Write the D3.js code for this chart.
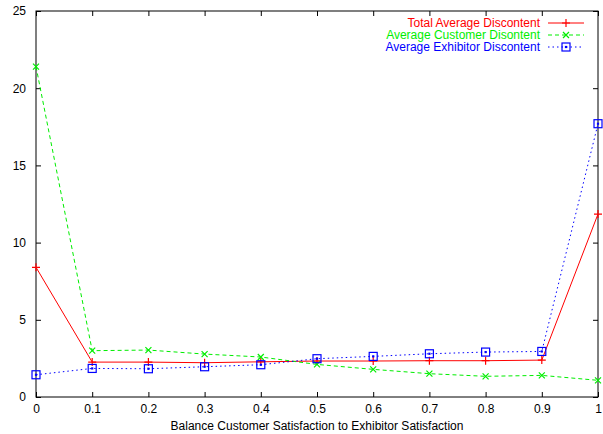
<!DOCTYPE html>
<meta charset="utf-8">
<style>
body { margin: 0; background: #fff; }
svg { display: block; font-family: "Liberation Sans", Arial, sans-serif; }
</style>
<svg width="603" height="434"></svg>
<script src="https://d3js.org/d3.v7.min.js"></script>
<script>

var balance = [0, 0.1, 0.2, 0.3, 0.4, 0.5, 0.6, 0.7, 0.8, 0.9, 1];
var totalDiscontent = [8.4, 2.26, 2.26, 2.22, 2.28, 2.33, 2.33, 2.35, 2.35, 2.39, 11.85];
var customerDiscontent = [21.4, 3.0, 3.04, 2.78, 2.59, 2.11, 1.79, 1.51, 1.34, 1.4, 1.08];
var exhibitorDiscontent = [1.44, 1.85, 1.83, 1.96, 2.09, 2.48, 2.63, 2.8, 2.91, 2.95, 17.7];
var xTicks = [0, 0.1, 0.2, 0.3, 0.4, 0.5, 0.6, 0.7, 0.8, 0.9, 1];
var yTicks = [0, 5, 10, 15, 20, 25];

var series = [
  {name: "Total Average Discontent", values: totalDiscontent, color: "#ff0000", dash: null, mark: "plus"},
  {name: "Average Customer Disontent", values: customerDiscontent, color: "#00ee00", dash: "4,3", mark: "cross"},
  {name: "Average Exhibitor Discontent", values: exhibitorDiscontent, color: "#0000ff", dash: "1.5,3", mark: "square"}
];

var svg = d3.select("svg"),
    margin = {top: 11, right: 5, bottom: 37, left: 36},
    width = +svg.attr("width") - margin.left - margin.right,
    height = +svg.attr("height") - margin.top - margin.bottom,
    g = svg.append("g").attr("transform", "translate(" + margin.left + "," + margin.top + ")");

var x = d3.scaleLinear().domain([0, 1]).range([0, width]);
var y = d3.scaleLinear().domain([0, 25]).range([height, 0]);

// ticks on all four sides, pointing inward (gnuplot style)
function styleAxis(sel) {
  sel.select(".domain").remove();
  sel.selectAll("line").attr("stroke", "#000");
  sel.selectAll("text").attr("fill", "#000").style("font-size", "12px");
}
g.append("g").attr("transform", "translate(0," + height + ")")
  .call(d3.axisBottom(x).tickValues(xTicks).tickSize(-5).tickPadding(7).tickFormat(d3.format("")))
  .call(styleAxis);
g.append("g")
  .call(d3.axisTop(x).tickValues(xTicks).tickSize(-5).tickFormat(""))
  .call(styleAxis);
g.append("g")
  .call(d3.axisLeft(y).tickValues(yTicks).tickSize(-5).tickPadding(10))
  .call(styleAxis);
g.append("g").attr("transform", "translate(" + width + ",0)")
  .call(d3.axisRight(y).tickValues(yTicks).tickSize(-5).tickFormat(""))
  .call(styleAxis);

g.append("rect")
  .attr("width", width).attr("height", height)
  .attr("fill", "none").attr("stroke", "#000").attr("stroke-width", 1);

var line = d3.line()
  .x(function(d, i) { return x(balance[i]); })
  .y(function(d) { return y(d); });

function drawMark(sel, type, color) {
  if (type === "plus") {
    sel.append("path").attr("d", "M-4,0H4M0,-4V4");
  } else if (type === "cross") {
    sel.append("path").attr("d", "M-3,-3L3,3M-3,3L3,-3");
  } else {
    sel.append("rect").attr("x", -4).attr("y", -4).attr("width", 8).attr("height", 8).attr("fill", "none");
    sel.append("rect").attr("x", -0.5).attr("y", -0.5).attr("width", 1).attr("height", 1).attr("fill", color).attr("stroke", "none");
  }
  sel.selectAll("path, rect").attr("stroke", color).attr("stroke-width", 1.2);
}

series.forEach(function(s) {
  g.append("path")
    .datum(s.values)
    .attr("fill", "none")
    .attr("stroke", s.color)
    .attr("stroke-width", 1)
    .attr("stroke-dasharray", s.dash)
    .attr("d", line);

  g.selectAll(null)
    .data(s.values)
    .enter().append("g")
    .attr("transform", function(d, i) { return "translate(" + x(balance[i]) + "," + y(d) + ")"; })
    .each(function() { drawMark(d3.select(this), s.mark, s.color); });
});

// legend
var legend = svg.append("g").attr("transform", "translate(540,23)");
series.forEach(function(s, i) {
  var row = legend.append("g").attr("transform", "translate(0," + (i * 12) + ")");
  row.append("text")
    .attr("text-anchor", "end")
    .attr("dy", "0.35em")
    .attr("fill", s.color)
    .style("font-size", "12px")
    .text(s.name);
  row.append("line")
    .attr("x1", 8).attr("x2", 44)
    .attr("stroke", s.color)
    .attr("stroke-dasharray", s.dash);
  drawMark(row.append("g").attr("transform", "translate(26,0)"), s.mark, s.color);
});

svg.append("text")
  .attr("x", margin.left + width / 2)
  .attr("y", 430)
  .attr("text-anchor", "middle")
  .style("font-size", "12px")
  .text("Balance Customer Satisfaction to Exhibitor Satisfaction");

</script>
